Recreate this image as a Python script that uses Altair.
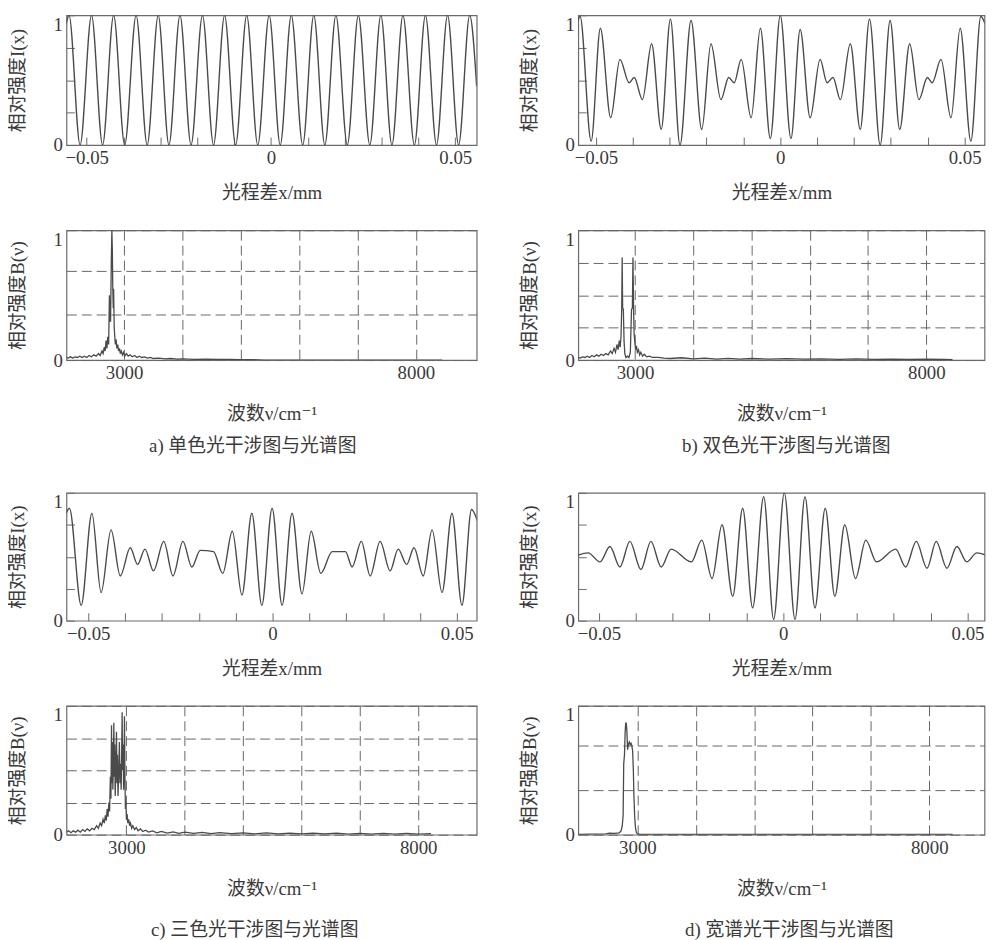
import altair as alt
import pandas as pd

# ---------------- data ----------------
IX_TICKS = [-0.05, -0.04, -0.03, -0.02, -0.01, 0.0, 0.01, 0.02, 0.03, 0.04, 0.05]
IY_TICKS = [0, 0.25, 0.5, 0.75, 1]
SX_GRID = [3000, 4000, 5000, 6000, 7000, 8000]
SY_GRID_THIRDS = [0, 0.35, 0.69, 1]
SY_GRID_QUARTERS = [0, 0.25, 0.5, 0.75, 1]

# interferogram a (monochromatic): (optical path difference mm, intensity)
A1 = [(-0.0556, 0.93), (-0.0548, 1), (-0.0518, 0), (-0.0487, 1), (-0.0457, 0), (-0.0427, 1),
      (-0.0397, 0), (-0.0366, 1), (-0.0336, 0), (-0.0306, 1), (-0.0277, 0), (-0.0247, 1),
      (-0.0217, 0), (-0.0186, 1), (-0.0156, 0), (-0.0126, 1), (-0.0096, 0), (-0.0066, 1),
      (-0.0036, 0), (-0.0005, 1), (0.0025, 0), (0.0055, 1), (0.0086, 0), (0.0116, 1),
      (0.0146, 0), (0.0176, 1), (0.0207, 0), (0.0237, 1), (0.0268, 0), (0.0298, 1),
      (0.0328, 0), (0.0358, 1), (0.0389, 0), (0.0419, 1), (0.0449, 0), (0.0479, 1),
      (0.0509, 0), (0.0539, 1), (0.0558, 0.45)]

# interferogram b (two colours)
B1 = [(-0.0550, 0.95), (-0.0543, 0.99), (-0.0513, 0.03), (-0.0488, 0.90), (-0.0460, 0.21),
      (-0.0435, 0.66), (-0.0410, 0.48), (-0.0396, 0.52), (-0.0374, 0.35), (-0.0349, 0.78),
      (-0.0323, 0.12), (-0.0298, 0.97), (-0.0272, 0.0), (-0.0242, 0.96), (-0.0213, 0.12),
      (-0.0188, 0.78), (-0.0161, 0.35), (-0.0140, 0.52), (-0.0125, 0.48), (-0.0106, 0.66),
      (-0.0079, 0.21), (-0.0054, 0.90), (-0.0027, 0.05), (0.0, 1.0), (0.0029, 0.05),
      (0.0054, 0.89), (0.0081, 0.21), (0.0108, 0.66), (0.0127, 0.48), (0.0143, 0.52),
      (0.0163, 0.35), (0.0190, 0.78), (0.0217, 0.12), (0.0242, 0.97), (0.0271, 0.0),
      (0.0298, 0.96), (0.0324, 0.12), (0.0351, 0.78), (0.0376, 0.35), (0.0399, 0.52),
      (0.0412, 0.48), (0.0436, 0.66), (0.0463, 0.21), (0.0488, 0.90), (0.0517, 0.03),
      (0.0544, 0.99), (0.0556, 0.93)]

# interferogram c (three colours)
C1 = [(-0.0560, 0.84), (-0.0551, 0.88), (-0.0519, 0.12), (-0.0490, 0.84), (-0.0465, 0.22),
      (-0.0438, 0.71), (-0.0413, 0.35), (-0.0386, 0.57), (-0.0366, 0.44), (-0.0346, 0.56),
      (-0.0323, 0.39), (-0.0295, 0.62), (-0.0270, 0.35), (-0.0243, 0.62), (-0.0219, 0.42),
      (-0.0196, 0.55), (-0.0160, 0.54), (-0.0135, 0.37), (-0.0109, 0.70), (-0.0083, 0.20),
      (-0.0056, 0.84), (-0.0029, 0.12), (-0.0001, 0.88), (0.0026, 0.12), (0.0053, 0.84),
      (0.0080, 0.21), (0.0105, 0.70), (0.0131, 0.37), (0.0162, 0.54), (0.0198, 0.54),
      (0.0216, 0.42), (0.0241, 0.62), (0.0265, 0.35), (0.0292, 0.62), (0.0319, 0.39),
      (0.0341, 0.56), (0.0364, 0.44), (0.0384, 0.57), (0.0409, 0.35), (0.0433, 0.71),
      (0.0460, 0.22), (0.0487, 0.84), (0.0514, 0.12), (0.0540, 0.87), (0.0556, 0.78)]

# interferogram d (broad band)
D1 = [(-0.0558, 0.51), (-0.0529, 0.53), (-0.0497, 0.46), (-0.0470, 0.58), (-0.0443, 0.42),
      (-0.0416, 0.62), (-0.0386, 0.40), (-0.0359, 0.62), (-0.0331, 0.42), (-0.0304, 0.56),
      (-0.0249, 0.46), (-0.0221, 0.63), (-0.0193, 0.33), (-0.0166, 0.75), (-0.0137, 0.19),
      (-0.0110, 0.88), (-0.0083, 0.10), (-0.0053, 0.97), (-0.0026, 0.01), (0.0003, 1.0),
      (0.0032, 0.01), (0.0059, 0.97), (0.0086, 0.10), (0.0114, 0.88), (0.0140, 0.19),
      (0.0167, 0.75), (0.0196, 0.33), (0.0224, 0.63), (0.0253, 0.46), (0.0305, 0.56),
      (0.0332, 0.42), (0.0361, 0.62), (0.0390, 0.41), (0.0415, 0.62), (0.0444, 0.41),
      (0.0471, 0.58), (0.0498, 0.46), (0.0525, 0.53), (0.0552, 0.51)]

# spectra: (wavenumber cm^-1, relative intensity)
A2 = [(2012, 0.02), (2040, 0.015), (2080, 0.025), (2120, 0.015), (2160, 0.025), (2200, 0.02),
      (2240, 0.03), (2280, 0.02), (2320, 0.03), (2360, 0.02), (2400, 0.035), (2440, 0.025),
      (2480, 0.04), (2520, 0.03), (2560, 0.05), (2590, 0.035), (2620, 0.07), (2640, 0.05),
      (2660, 0.10), (2675, 0.07), (2690, 0.15), (2705, 0.09), (2720, 0.18), (2735, 0.12),
      (2748, 0.50), (2756, 0.30), (2768, 0.30), (2780, 0.75), (2790, 1.0), (2798, 0.85),
      (2806, 0.55), (2814, 0.40), (2820, 0.55), (2830, 0.25), (2840, 0.18), (2850, 0.12),
      (2862, 0.16), (2875, 0.09), (2890, 0.12), (2905, 0.07), (2920, 0.09), (2935, 0.05),
      (2950, 0.07), (2970, 0.04), (2990, 0.06), (3010, 0.03), (3040, 0.05), (3070, 0.03),
      (3100, 0.04), (3140, 0.025), (3180, 0.035), (3220, 0.02), (3260, 0.03), (3300, 0.02),
      (3350, 0.025), (3400, 0.015), (3450, 0.02), (3500, 0.012), (3600, 0.015), (3700, 0.01),
      (3800, 0.012), (3900, 0.008), (4000, 0.01), (4200, 0.006), (4400, 0.008), (4600, 0.005),
      (4800, 0.006), (5000, 0.004), (5200, 0.003), (5400, 0.0), (8450, 0.0)]

B2 = [(2026, 0.02), (2060, 0.015), (2100, 0.025), (2140, 0.02), (2180, 0.03), (2220, 0.02),
      (2260, 0.035), (2300, 0.025), (2340, 0.04), (2380, 0.03), (2420, 0.045), (2460, 0.035),
      (2500, 0.05), (2540, 0.04), (2580, 0.07), (2610, 0.05), (2640, 0.09), (2665, 0.06),
      (2690, 0.12), (2710, 0.08), (2730, 0.15), (2745, 0.10), (2760, 0.18), (2772, 0.40),
      (2780, 0.79), (2788, 0.40), (2800, 0.39), (2812, 0.15), (2825, 0.05), (2845, 0.02),
      (2870, 0.03), (2895, 0.02), (2920, 0.06), (2940, 0.39), (2955, 0.40), (2965, 0.79),
      (2975, 0.40), (2985, 0.20), (2998, 0.14), (3010, 0.08), (3025, 0.11), (3040, 0.06),
      (3060, 0.08), (3080, 0.04), (3100, 0.06), (3130, 0.03), (3160, 0.045), (3200, 0.025),
      (3250, 0.03), (3300, 0.02), (3400, 0.02), (3500, 0.015), (3600, 0.012), (3800, 0.018),
      (4000, 0.01), (4200, 0.015), (4400, 0.008), (4600, 0.013), (4800, 0.008), (5000, 0.012),
      (5300, 0.007), (5600, 0.011), (5900, 0.007), (6200, 0.01), (6500, 0.006), (6800, 0.009),
      (7100, 0.006), (7400, 0.008), (7700, 0.005), (8000, 0.007), (8300, 0.005), (8450, 0.004)]

C2 = [(1973, 0.02), (2010, 0.03), (2050, 0.015), (2090, 0.03), (2130, 0.02), (2170, 0.035),
      (2210, 0.02), (2250, 0.04), (2290, 0.025), (2330, 0.045), (2370, 0.03), (2410, 0.05),
      (2450, 0.04), (2490, 0.07), (2520, 0.05), (2550, 0.09), (2575, 0.07), (2600, 0.12),
      (2620, 0.09), (2640, 0.15), (2655, 0.11), (2670, 0.20), (2685, 0.14), (2700, 0.25),
      (2712, 0.18), (2725, 0.45), (2735, 0.28), (2745, 0.85), (2752, 0.40), (2760, 0.72),
      (2768, 0.35), (2777, 0.55), (2785, 0.87), (2793, 0.45), (2800, 0.70), (2808, 0.30),
      (2818, 0.50), (2830, 0.80), (2838, 0.40), (2846, 0.62), (2856, 0.30), (2866, 0.45),
      (2880, 0.72), (2890, 0.40), (2900, 0.55), (2910, 0.35), (2918, 0.60), (2927, 0.95),
      (2935, 0.50), (2944, 0.70), (2952, 0.35), (2960, 0.55), (2967, 0.92), (2975, 0.45),
      (2983, 0.20), (2992, 0.25), (3002, 0.12), (3012, 0.16), (3025, 0.09), (3040, 0.12),
      (3055, 0.07), (3070, 0.09), (3090, 0.05), (3110, 0.07), (3140, 0.04), (3170, 0.055),
      (3200, 0.03), (3240, 0.045), (3280, 0.025), (3330, 0.035), (3380, 0.02), (3450, 0.03),
      (3520, 0.015), (3600, 0.025), (3700, 0.012), (3800, 0.022), (3900, 0.01), (4000, 0.02),
      (4150, 0.01), (4300, 0.018), (4450, 0.008), (4600, 0.016), (4800, 0.008), (5000, 0.015),
      (5200, 0.007), (5400, 0.014), (5600, 0.007), (5800, 0.013), (6000, 0.006), (6200, 0.012),
      (6400, 0.006), (6600, 0.012), (6800, 0.005), (7000, 0.011), (7200, 0.005), (7400, 0.01),
      (7600, 0.005), (7800, 0.01), (8000, 0.005), (8218, 0.008)]

D2 = [(1986, 0.003), (2200, 0.004), (2461, 0.006), (2520, 0.012), (2600, 0.011), (2687, 0.015),
      (2720, 0.03), (2740, 0.07), (2755, 0.15), (2765, 0.55), (2778, 0.62), (2790, 0.80),
      (2800, 0.87), (2810, 0.86), (2820, 0.80), (2832, 0.66), (2845, 0.70), (2860, 0.72),
      (2875, 0.70), (2890, 0.71), (2905, 0.69), (2918, 0.65), (2930, 0.50), (2940, 0.30),
      (2952, 0.15), (2965, 0.06), (2980, 0.02), (3000, 0.006), (3050, 0.003), (3500, 0.003),
      (8400, 0.002)]

CAPTIONS = ["a) 单色光干涉图与光谱图", "b) 双色光干涉图与光谱图",
            "c) 三色光干涉图与光谱图", "d) 宽谱光干涉图与光谱图"]

# ---------------- style ----------------
FONT = "Liberation Serif, Noto Sans CJK SC, DejaVu Serif"
LINE = "#4a4a4a"
TEXT = "#3a3a3a"
FRAME = "#6b6b6b"
GRID = "#666666"
FS = 19
LW, RW = 414, 410

Y_BASE = {"condition": {"test": "datum.value == 1", "value": "top"}, "value": "middle"}
Y_LABEL = "datum.value == 0 ? '0' : (datum.value == 1 ? '1' : '')"


def common_text():
    return dict(labelFont=FONT, labelFontSize=FS, labelColor=TEXT,
                titleFont=FONT, titleFontSize=FS, titleFontWeight="normal",
                titleColor=TEXT, labelFlush=False, labelOverlap=False)


def interferogram(pts, domain, width, height):
    df = pd.DataFrame(pts, columns=["x", "y"])
    xaxis = alt.Axis(values=IX_TICKS, format=".2f",
                     labelExpr="abs(datum.value) < 0.0001 ? '0' : (abs(datum.value) > 0.0499 ? datum.label : '')",
                     offset=-8, tickSize=8, tickColor=FRAME, tickWidth=1, domain=False, grid=False,
                     labelPadding=4, title="光程差x/mm", titlePadding=16,
                     minExtent=31, maxExtent=31, **common_text())
    yaxis = alt.Axis(values=IY_TICKS, labelExpr=Y_LABEL, labelBaseline=Y_BASE,
                     offset=-8, tickSize=8, tickColor=FRAME, tickWidth=1, domain=False, grid=False,
                     labelPadding=4, title="相对强度I(x)", titlePadding=25,
                     minExtent=22, maxExtent=22, **common_text())
    return alt.Chart(df).mark_line(color=LINE, strokeWidth=1.4, interpolate="monotone", clip=True).encode(
        x=alt.X("x:Q", scale=alt.Scale(domain=domain, nice=False, zero=False), axis=xaxis),
        y=alt.Y("y:Q", scale=alt.Scale(domain=[0, 1], nice=False), axis=yaxis),
    ).properties(width=width, height=height)


def spectrum(pts, domain, width, height, ygrid, caption, cap_offset, cap_dx):
    df = pd.DataFrame(pts, columns=["x", "y"])
    xaxis = alt.Axis(values=SX_GRID, format="d",
                     labelExpr="datum.value == 3000 || datum.value == 8000 ? datum.label : ''",
                     ticks=False, domain=False, grid=True, gridDash=[10, 5], gridColor=GRID, gridWidth=1,
                     labelPadding=4, title="波数ν/cm⁻¹", titlePadding=22,
                     minExtent=23, maxExtent=23, **common_text())
    yaxis = alt.Axis(values=ygrid, labelExpr=Y_LABEL, labelBaseline=Y_BASE,
                     ticks=False, domain=False, grid=True, gridDash=[10, 5], gridColor=GRID, gridWidth=1,
                     labelPadding=4, title="相对强度B(ν)", titlePadding=25,
                     minExtent=14, maxExtent=14, **common_text())
    return alt.Chart(df).mark_line(color=LINE, strokeWidth=1.3, clip=True).encode(
        x=alt.X("x:Q", scale=alt.Scale(domain=domain, nice=False, zero=False), axis=xaxis),
        y=alt.Y("y:Q", scale=alt.Scale(domain=[0, 1], nice=False), axis=yaxis),
    ).properties(
        width=width, height=height,
        title=alt.TitleParams(text=caption, orient="bottom", anchor="middle", frame="group",
                              offset=cap_offset, dx=cap_dx, font=FONT, fontSize=FS,
                              fontWeight="normal", color=TEXT),
    )


a1 = interferogram(A1, [-0.0555, 0.0558], LW, 131)
b1 = interferogram(B1, [-0.0548, 0.0554], RW, 131)
a2 = spectrum(A2, [2012, 9041], LW, 131, SY_GRID_THIRDS, CAPTIONS[0], 14, -19)
b2 = spectrum(B2, [2026, 8999], RW, 131, SY_GRID_QUARTERS, CAPTIONS[1], 14, 5)
c1 = interferogram(C1, [-0.0559, 0.0554], LW, 129)
d1 = interferogram(D1, [-0.0556, 0.0546], RW, 129)
c2 = spectrum(C2, [1973, 9002], LW, 130, SY_GRID_QUARTERS, CAPTIONS[2], 23, -17)
d2 = spectrum(D2, [1986, 8947], RW, 130, SY_GRID_THIRDS, CAPTIONS[3], 23, 8)


def row(left, right):
    return alt.hconcat(left, right, spacing=102.5, bounds="flush")


top = alt.vconcat(row(a1, b1), row(a2, b2), spacing=26)
bottom = alt.vconcat(row(c1, d1), row(c2, d2), spacing=26)

chart = alt.vconcat(top, bottom, spacing=34).properties(
    padding={"left": 0, "top": 1, "right": 0, "bottom": 0},
    background="white",
).configure_view(stroke=FRAME, strokeWidth=1.2)

chart.save("out.html", embed_options={"renderer": "svg", "actions": False})
